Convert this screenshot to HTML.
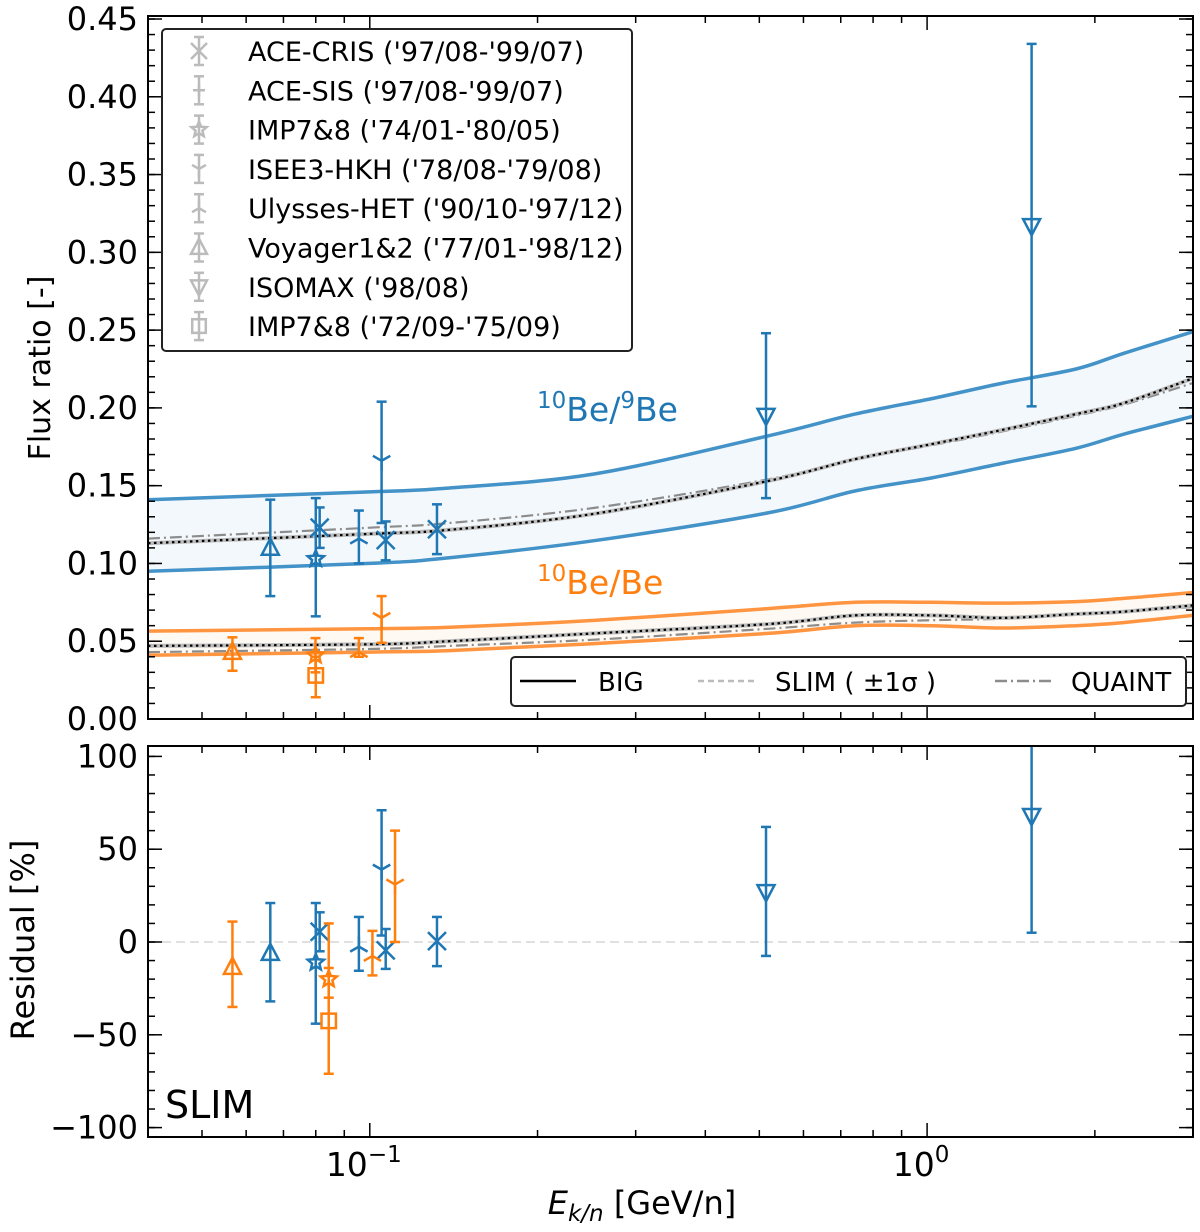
<!DOCTYPE html>
<html><head><meta charset="utf-8">
<style>
html,body{margin:0;padding:0;background:#fff;}
svg{display:block;font-family:"DejaVu Sans","Liberation Sans",sans-serif;}
</style></head>
<body>
<svg id="chart" width="1200" height="1232" viewBox="0 0 1200 1232" xmlns="http://www.w3.org/2000/svg">
  <g id="top-panel"></g>
  <g id="bot-panel"></g>
  <g id="labels">
    <text transform="translate(50,368) rotate(-90)" text-anchor="middle" font-size="30">Flux ratio [-]</text>
    <text transform="translate(34,940) rotate(-90)" text-anchor="middle" font-size="32">Residual [%]</text>
    <text x="642" y="1214" text-anchor="middle" font-size="32"><tspan font-style="italic">E</tspan><tspan font-style="italic" font-size="23" dy="7">k/n</tspan><tspan dy="-7"> [GeV/n]</tspan></text>
    <text x="537" y="421" fill="#1f77b4" font-size="33"><tspan font-size="23" dy="-13">10</tspan><tspan dy="13">Be/</tspan><tspan font-size="23" dy="-13">9</tspan><tspan dy="13">Be</tspan></text>
    <text x="537" y="594" fill="#ff7f0e" font-size="33"><tspan font-size="23" dy="-13">10</tspan><tspan dy="13">Be/Be</tspan></text>
    <text x="165" y="1118" font-size="38">SLIM</text>
  </g>
</svg>
<script>
// ---------- data ----------
const curveE = [0.04,0.1,0.139,0.2525,0.518,0.742,1.02,1.37,1.85,2.25,3.0];
const blueUpper = [0.141,0.146,0.1485,0.1575,0.182,0.196,0.206,0.216,0.225,0.235,0.249];
const blueLower = [0.095,0.100,0.1037,0.1146,0.1325,0.1466,0.155,0.1645,0.174,0.183,0.1946];
const blueBig = [0.113,0.119,0.1216,0.1319,0.153,0.167,0.1767,0.186,0.196,0.203,0.219];
const blueQuaint = [0.116,0.123,0.126,0.1357,0.154,0.167,0.176,0.185,0.195,0.202,0.216];
const orangeUpper = [0.0565,0.058,0.059,0.0634,0.071,0.075,0.075,0.0745,0.0755,0.0775,0.0813];
const orangeLower = [0.041,0.043,0.044,0.0485,0.055,0.060,0.060,0.0585,0.060,0.062,0.0666];
const orangeBig = [0.047,0.048,0.050,0.055,0.061,0.0666,0.0666,0.065,0.0675,0.069,0.073];
const orangeQuaint = [0.043,0.045,0.047,0.051,0.058,0.062,0.0635,0.0645,0.067,0.069,0.072];

const blueE = [0.0663,0.080,0.0813,0.0956,0.105,0.1068,0.132,0.514,1.54];
const blueVal = [0.110,0.103,0.123,0.116,0.166,0.115,0.122,0.195,0.317];
const blueHi = [0.141,0.142,0.136,0.134,0.204,0.127,0.138,0.248,0.434];
const blueLo = [0.079,0.066,0.110,0.100,0.126,0.102,0.106,0.142,0.201];
const blueMarker = ['tri','star','x','triup','tridown','x','x','tridn','tridn'];

const orangeE = [0.0567,0.0799,0.080,0.0956,0.105];
const orangeVal = [0.043,0.041,0.028,0.043,0.065];
const orangeHi = [0.0525,0.052,0.040,0.052,0.079];
const orangeLo = [0.031,0.030,0.014,0.040,0.049];
const orangeMarker = ['tri','star','sq','triup','tridown'];

const resBlueE = [0.0663,0.080,0.0813,0.0956,0.105,0.1068,0.132,0.514,1.54];
const resBlueVal = [-6,-11,5.5,-2.5,39,-4.5,0.5,27,68];
const resBlueHi = [21,21,16,13.5,71,7,13.5,62,110];
const resBlueLo = [-32,-44,-5,-15.5,3.5,-14.5,-13,-7.5,5];
const resBlueMarker = ['tri','star','x','triup','tridown','x','x','tridn','tridn'];

const resOrangeE = [0.0567,0.0844,0.0844,0.1011,0.1110];
const resOrangeVal = [-13.5,-20,-42.5,-7.5,31];
const resOrangeHi = [11,10,-14,6,60];
const resOrangeLo = [-35,-30,-71,-18,0];
const resOrangeMarker = ['tri','star','sq','triup','tridown'];

const yTicksTop = [0,0.05,0.10,0.15,0.20,0.25,0.30,0.35,0.40,0.45];
const yTickLabelsTop = ['0.00','0.05','0.10','0.15','0.20','0.25','0.30','0.35','0.40','0.45'];
const yTicksBot = [-100,-50,0,50,100];
const yTickLabelsBot = ['\u2212100','\u221250','0','50','100'];

const legendNames = ["ACE-CRIS ('97/08-'99/07)","ACE-SIS ('97/08-'99/07)","IMP7&8 ('74/01-'80/05)","ISEE3-HKH ('78/08-'79/08)","Ulysses-HET ('90/10-'97/12)","Voyager1&2 ('77/01-'98/12)","ISOMAX ('98/08)","IMP7&8 ('72/09-'75/09)"];
const legendMarkers = ['x','plus','star','tridown','triup','tri','tridn','sq'];

// ---------- layout ----------
const NS='http://www.w3.org/2000/svg';
const L=148,R=1193;
const TT=16,TB=719, BT=746,BB=1137;
const xMin=Math.log10(0.04), xMax=Math.log10(3.0);
function xs(e){return L+(Math.log10(e)-xMin)/(xMax-xMin)*(R-L);}
function ysTop(v){return TB-v/0.45*(TB-TT-3);}
function ysBot(v){return 942-v*1.856;}
const BLUE='#1f77b4', ORANGE='#ff7f0e';

function mk(tag,attrs,parent){const el=document.createElementNS(NS,tag);for(const k in attrs)el.setAttribute(k,attrs[k]);parent.appendChild(el);return el;}

function markerPath(type,cx,cy,s){
  const r=s;
  switch(type){
    case 'x': return `M${cx-r},${cy-r}L${cx+r},${cy+r}M${cx-r},${cy+r}L${cx+r},${cy-r}`;
    case 'plus': return `M${cx-r},${cy}L${cx+r},${cy}M${cx},${cy-r}L${cx},${cy+r}`;
    case 'tri': return `M${cx},${cy-r*1.1}L${cx+r},${cy+r*0.8}L${cx-r},${cy+r*0.8}Z`;
    case 'tridn': return `M${cx},${cy+r*1.1}L${cx+r},${cy-r*0.8}L${cx-r},${cy-r*0.8}Z`;
    case 'sq': return `M${cx-r*0.85},${cy-r*0.85}h${r*1.7}v${r*1.7}h${-r*1.7}Z`;
    case 'triup': return `M${cx},${cy}L${cx},${cy-r}M${cx},${cy}L${cx-r*0.87},${cy+r*0.5}M${cx},${cy}L${cx+r*0.87},${cy+r*0.5}`;
    case 'tridown': return `M${cx},${cy}L${cx},${cy+r}M${cx},${cy}L${cx-r*0.87},${cy-r*0.5}M${cx},${cy}L${cx+r*0.87},${cy-r*0.5}`;
    case 'star': {let d='';for(let i=0;i<10;i++){const a=-Math.PI/2+i*Math.PI/5;const rr=i%2?r*0.45:r;d+=(i?'L':'M')+(cx+rr*Math.cos(a)).toFixed(1)+','+(cy+rr*Math.sin(a)).toFixed(1);}return d+'Z';}
  }
}

function drawAxes(g,top,bot,yTicks,yLabels,yFn,minorStep,yMinV,yMaxV,prefix){
  mk('rect',{x:L,y:top,width:R-L,height:bot-top,fill:'none',stroke:'#000','stroke-width':2,},g);
  for(let dec=-2;dec<=0;dec++){
    for(let m=1;m<=9;m++){
      const e=m*Math.pow(10,dec);
      if(e<0.04||e>3.0)continue;
      const x=xs(e);const len=m===1?14:7;
      mk('line',{x1:x,x2:x,y1:bot,y2:bot-len,stroke:'#000','stroke-width':1.5},g);
      mk('line',{x1:x,x2:x,y1:top,y2:top+len,stroke:'#000','stroke-width':1.5},g);
    }
  }
  for(let v=yMinV;v<=yMaxV+1e-9;v+=minorStep){
    const y=yFn(v);if(y<top-0.5||y>bot+0.5)continue;
    mk('line',{x1:L,x2:L+7,y1:y,y2:y,stroke:'#000','stroke-width':1.5},g);
    mk('line',{x1:R,x2:R-7,y1:y,y2:y,stroke:'#000','stroke-width':1.5},g);
  }
  yTicks.forEach((v,i)=>{
    const y=yFn(v);
    mk('line',{x1:L,x2:L+14,y1:y,y2:y,stroke:'#000','stroke-width':1.5},g);
    mk('line',{x1:R,x2:R-14,y1:y,y2:y,stroke:'#000','stroke-width':1.5},g);
    const t=mk('text',{x:138,y:y+11,'text-anchor':'end','font-size':32},g);
    
    
    t.textContent=yLabels[i];
  });
}

// smooth curve (Catmull-Rom in pixel space)
function smooth(es,vs,yFn){
  const p=es.map((e,i)=>[xs(e),yFn(vs[i])]);
  let d='M'+p[0][0].toFixed(1)+','+p[0][1].toFixed(1);
  for(let i=0;i<p.length-1;i++){
    const p0=p[Math.max(0,i-1)],p1=p[i],p2=p[i+1],p3=p[Math.min(p.length-1,i+2)];
    const c1=[p1[0]+(p2[0]-p0[0])/6,p1[1]+(p2[1]-p0[1])/6];
    const c2=[p2[0]-(p3[0]-p1[0])/6,p2[1]-(p3[1]-p1[1])/6];
    d+='C'+c1[0].toFixed(1)+','+c1[1].toFixed(1)+' '+c2[0].toFixed(1)+','+c2[1].toFixed(1)+' '+p2[0].toFixed(1)+','+p2[1].toFixed(1);
  }
  return d;
}

function drawPoints(g,es,vals,his,los,markers,color,yFn,name,clipTop){
  es.forEach((e,i)=>{
    const x=xs(e);const y=yFn(vals[i]);
    let yh=yFn(his[i]);const yl=yFn(los[i]);
    const grp=mk('g',{},g);
    
    
    const capTop=yh>=clipTop;
    if(!capTop)yh=clipTop;
    mk('line',{x1:x,x2:x,y1:yh,y2:yl,stroke:color,'stroke-width':2.5},grp);
    if(capTop)mk('line',{x1:x-5,x2:x+5,y1:yh,y2:yh,stroke:color,'stroke-width':2.5},grp);
    mk('line',{x1:x-5,x2:x+5,y1:yl,y2:yl,stroke:color,'stroke-width':2.5},grp);
    const m=markers[i];
    mk('path',{d:markerPath(m,x,y,m==='x'?9:(m==='triup'||m==='tridown'?10:8.5)),fill:'none',stroke:color,'stroke-width':2.5},grp);
  });
}

// ---------- top panel ----------
const gt=document.getElementById('top-panel');
const clipT=mk('clipPath',{id:'clipTop'},gt);
mk('rect',{x:L,y:TT,width:R-L,height:TB-TT},clipT);
const cg=mk('g',{'clip-path':'url(#clipTop)'},gt);
function band(up,lo,color,fill,name){
  const upD=smooth(curveE,up,ysTop);
  const loRev=smooth(curveE.slice().reverse(),lo.slice().reverse(),ysTop);
  const d=upD+'L'+loRev.slice(1)+'Z';
  const b=mk('path',{d:d,fill:fill,stroke:'none'},cg);
  
  
  mk('path',{d:upD,fill:'none',stroke:color,'stroke-width':3.5},cg);
  mk('path',{d:smooth(curveE,lo,ysTop),fill:'none',stroke:color,'stroke-width':3.5},cg);
}
function models(big,quaint,name){
  const q=mk('path',{d:smooth(curveE,quaint,ysTop),fill:'none',stroke:'#8c8c8c','stroke-width':2.2,'stroke-dasharray':'12,4,2,4'},cg);
  
  
  const s=mk('path',{d:smooth(curveE,big,ysTop),fill:'none',stroke:'#bdbdbd','stroke-width':4},cg);
  
  
  const b=mk('path',{d:smooth(curveE,big,ysTop),fill:'none',stroke:'#000','stroke-width':2.2,'stroke-dasharray':'2.5,3.5'},cg);
  
  
}
band(blueUpper,blueLower,'#4392c8','#f3f8fc','be10-be9');
band(orangeUpper,orangeLower,'#ff9540','#fff9f3','be10-be');
models(blueBig,blueQuaint,'be10-be9');
models(orangeBig,orangeQuaint,'be10-be');
drawPoints(gt,blueE,blueVal,blueHi,blueLo,blueMarker,BLUE,ysTop,'be10-be9-data-point',TT);
drawPoints(gt,orangeE,orangeVal,orangeHi,orangeLo,orangeMarker,ORANGE,ysTop,'be10-be-data-point',TT);
drawAxes(gt,TT,TB,yTicksTop,yTickLabelsTop,ysTop,0.01,0,0.45,'top');

// experiment legend
const lg=mk('g',{},gt);


mk('rect',{x:162,y:29,width:470,height:322,rx:4,fill:'#fff','fill-opacity':0.85,stroke:'#222','stroke-width':2},lg);
legendNames.forEach((n,i)=>{
  const y=51+i*39.3;
  const e=mk('g',{},lg);
  
  
  mk('line',{x1:199,x2:199,y1:y-14,y2:y+14,stroke:'#bbb','stroke-width':2.5},e);
  mk('line',{x1:194,x2:204,y1:y-14,y2:y-14,stroke:'#bbb','stroke-width':2.5},e);
  mk('line',{x1:194,x2:204,y1:y+14,y2:y+14,stroke:'#bbb','stroke-width':2.5},e);
  const m=legendMarkers[i];
  mk('path',{d:markerPath(m,199,y,m==='plus'?6:8),fill:'none',stroke:'#bbb','stroke-width':2.5},e);
  const t=mk('text',{x:248,y:y+10,'font-size':27},e);
  t.textContent=n;
});

// model legend
const ml=mk('g',{},gt);


mk('rect',{x:511,y:657,width:675,height:49,rx:4,fill:'#fff',stroke:'#222','stroke-width':2},ml);
const items=[['BIG',520,598,'#000','none'],['SLIM ( \u00b11\u03c3 )',698,775,'#bbb','6,4'],['QUAINT',995,1071,'#8c8c8c','12,4,2,4']];
items.forEach(it=>{
  const e=mk('g',{},ml);
  
  
  const ln=mk('line',{x1:it[1],x2:it[1]+56,y1:681,y2:681,stroke:it[3],'stroke-width':2.5},e);
  if(it[4]!=='none')ln.setAttribute('stroke-dasharray',it[4]);
  const t=mk('text',{x:it[2],y:691,'font-size':26},e);
  t.textContent=it[0];
});

// ---------- bottom panel ----------
const gb=document.getElementById('bot-panel');
const zl=mk('line',{x1:L,x2:R,y1:ysBot(0),y2:ysBot(0),stroke:'#e0e0e0','stroke-width':2,'stroke-dasharray':'9,5'},gb);


drawPoints(gb,resBlueE,resBlueVal,resBlueHi,resBlueLo,resBlueMarker,BLUE,ysBot,'be10-be9-residual-point',BT);
drawPoints(gb,resOrangeE,resOrangeVal,resOrangeHi,resOrangeLo,resOrangeMarker,ORANGE,ysBot,'be10-be-residual-point',BT);
drawAxes(gb,BT,BB,yTicksBot,yTickLabelsBot,ysBot,10,-100,100,'bottom');

[[0.1,'10','\u22121'],[1,'10','0']].forEach(p=>{
  const t=mk('text',{x:xs(p[0])-6,y:1176,'text-anchor':'middle','font-size':33},gb);
  
  
  t.innerHTML=p[1]+'<tspan font-size="23" dy="-14">'+p[2]+'</tspan>';
});
</script>
</body></html>
